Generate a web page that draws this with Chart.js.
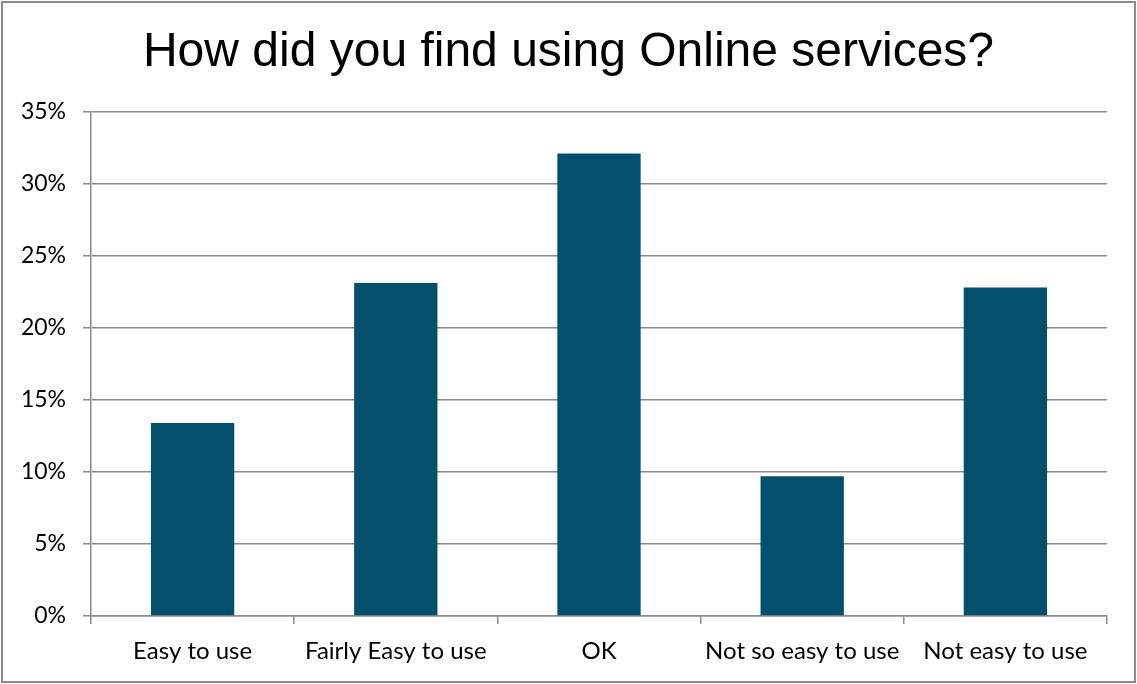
<!DOCTYPE html>
<html lang="en">
<head>
  <meta charset="UTF-8">
  <title>How did you find using Online services?</title>
  <script src="https://cdn.jsdelivr.net/npm/chart.js"></script>
  <style>
    html, body { margin: 0; padding: 0; background: #fff; }
    #wrap { width: 1137px; height: 684px; position: relative; }
  </style>
</head>
<body>
  <div id="wrap"><canvas id="chart"></canvas></div>

<script>
  // survey answers and share of respondents (%)
  const answers = ['Easy to use', 'Fairly Easy to use', 'OK', 'Not so easy to use', 'Not easy to use'];
  const shares = [13.4, 23.1, 32.1, 9.7, 22.8];
  const yTicks = [0, 5, 10, 15, 20, 25, 30, 35];

  const gridGray = '#8c8c8c';
  const fontFamily = 'Lato, "Open Sans", sans-serif';

  // grey frame round the whole chart, title centred on the full width
  const frame = {
    id: 'frame',
    afterLayout(chart) {
      if (chart.titleBlock) {
        chart.titleBlock.left = 0;
        chart.titleBlock.right = chart.width;
      }
    },
    afterDraw(chart) {
      const ctx = chart.ctx;
      ctx.save();
      ctx.strokeStyle = '#8a8a8a';
      ctx.lineWidth = 2;
      ctx.strokeRect(2, 2, chart.width - 4, chart.height - 4);
      ctx.restore();
    }
  };

  new Chart(document.getElementById('chart'), {
    type: 'bar',
    data: {
      labels: answers,
      datasets: [{
        data: shares,
        backgroundColor: '#02506b',
        borderWidth: 0,
        categoryPercentage: 1,
        barPercentage: 0.41
      }]
    },
    options: {
      responsive: true,
      maintainAspectRatio: false,
      animation: false,
      layout: { padding: { left: 0, right: 30, top: 0, bottom: 0 } },
      plugins: {
        legend: { display: false },
        tooltip: { enabled: false },
        title: {
          display: true,
          text: 'How did you find using Online services?',
          color: '#000',
          font: { family: '"Liberation Sans", Arial, sans-serif', size: 48, weight: 'normal' },
          padding: { top: 24, bottom: 30 }
        }
      },
      scales: {
        y: {
          min: 0,
          max: 35,
          afterFit(scale) { scale.width = 91; },
          afterBuildTicks(scale) { scale.ticks = yTicks.map(v => ({ value: v })); },
          ticks: {
            color: '#000',
            font: { family: fontFamily, size: 23 },
            padding: 17,
            callback: v => v + '%'
          },
          grid: { color: gridGray, lineWidth: 1.5, tickLength: 8 },
          border: { color: gridGray, width: 1.5 }
        },
        x: {
          afterFit(scale) { scale.height = 68; },
          ticks: { color: '#000', font: { family: fontFamily, size: 24 }, padding: 13, maxRotation: 0, autoSkip: false },
          grid: { offset: true, drawOnChartArea: false, color: gridGray, lineWidth: 1.5, tickLength: 8 },
          border: { color: gridGray, width: 1.5 }
        }
      }
    },
    plugins: [frame]
  });
</script>
</body>
</html>
